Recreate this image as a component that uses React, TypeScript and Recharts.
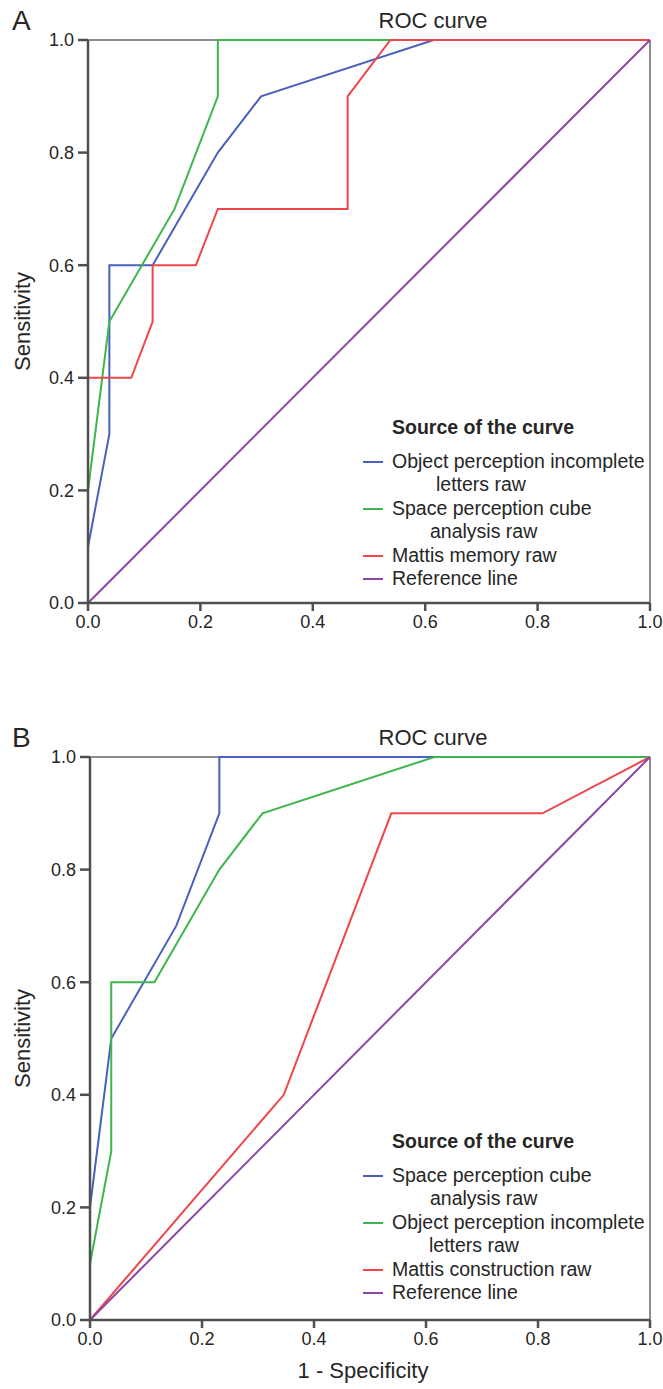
import React from 'react';
import {
  LineChart,
  Line,
  XAxis,
  YAxis,
  CartesianGrid,
  Legend
} from 'recharts';

// 1 - specificity / sensitivity pairs
const OBJ_LETTERS_FPR = [0, 0, 0.038, 0.038, 0.115, 0.231, 0.308, 0.615, 1];
const OBJ_LETTERS_TPR = [0, 0.1, 0.3, 0.6, 0.6, 0.8, 0.9, 1, 1];

const SPACE_CUBE_FPR = [0, 0, 0.038, 0.154, 0.231, 0.231, 1];
const SPACE_CUBE_TPR = [0, 0.2, 0.5, 0.7, 0.9, 1, 1];

const MATTIS_MEMORY_FPR = [0, 0, 0.077, 0.115, 0.115, 0.192, 0.231, 0.462, 0.462, 0.538, 1];
const MATTIS_MEMORY_TPR = [0, 0.4, 0.4, 0.5, 0.6, 0.6, 0.7, 0.7, 0.9, 1, 1];

const MATTIS_CONSTR_FPR = [0, 0.346, 0.538, 0.808, 1];
const MATTIS_CONSTR_TPR = [0, 0.4, 0.9, 0.9, 1];

const REF_FPR = [0, 1];
const REF_TPR = [0, 1];

const TICKS = [0, 0.2, 0.4, 0.6, 0.8, 1];

const zip = (xs: number[], ys: number[]) => xs.map((x, i) => ({ x, y: ys[i] }));

const FONT = '"Liberation Sans", Arial, sans-serif';
const AXIS = '#4f4f4f';
const FRAME = '#8c8c8c';
const TEXT = '#262626';

const COLORS = {
  blue: '#4861bc',
  green: '#3db64c',
  red: '#ef454b',
  purple: '#8c46a6'
};

interface Series {
  name: string[];
  color: string;
  data: { x: number; y: number }[];
  indent?: number;
}

const panelA: Series[] = [
  { name: ['Object perception incomplete', 'letters raw'], color: COLORS.blue, data: zip(OBJ_LETTERS_FPR, OBJ_LETTERS_TPR), indent: 44 },
  { name: ['Space perception cube', 'analysis raw'], color: COLORS.green, data: zip(SPACE_CUBE_FPR, SPACE_CUBE_TPR), indent: 38 },
  { name: ['Mattis memory raw'], color: COLORS.red, data: zip(MATTIS_MEMORY_FPR, MATTIS_MEMORY_TPR) },
  { name: ['Reference line'], color: COLORS.purple, data: zip(REF_FPR, REF_TPR) }
];

const panelB: Series[] = [
  { name: ['Space perception cube', 'analysis raw'], color: COLORS.blue, data: zip(SPACE_CUBE_FPR, SPACE_CUBE_TPR), indent: 38 },
  { name: ['Object perception incomplete', 'letters raw'], color: COLORS.green, data: zip(OBJ_LETTERS_FPR, OBJ_LETTERS_TPR), indent: 37 },
  { name: ['Mattis construction raw'], color: COLORS.red, data: zip(MATTIS_CONSTR_FPR, MATTIS_CONSTR_TPR) },
  { name: ['Reference line'], color: COLORS.purple, data: zip(REF_FPR, REF_TPR) }
];

function CurveLegend({ series }: { series: Series[] }) {
  return (
    <div style={{ fontFamily: FONT, fontSize: 19.5, lineHeight: '23.5px', color: TEXT, whiteSpace: 'nowrap' }}>
      <div style={{ fontWeight: 'bold', paddingLeft: 29, marginBottom: 10 }}>Source of the curve</div>
      {series.map(s => (
        <div key={s.name.join(' ')} style={{ display: 'flex', alignItems: 'flex-start' }}>
          <span style={{ display: 'inline-block', width: 20, height: 2, background: s.color, marginTop: 11, marginRight: 9 }} />
          <div>
            <div>{s.name[0]}</div>
            {s.name[1] && <div style={{ paddingLeft: s.indent }}>{s.name[1]}</div>}
          </div>
        </div>
      ))}
    </div>
  );
}

function RocPanel({ series, letter, top, yAxisWidth, height, xLabel, legendTop }: {
  series: Series[];
  letter: string;
  top: number;
  yAxisWidth: number;
  height: number;
  xLabel?: string;
  legendTop: number;
}) {
  return (
    <div style={{ position: 'absolute', left: 0, top, width: 663, height }}>
      <div style={{ position: 'absolute', left: 12, top: 5, fontFamily: FONT, fontSize: 28, color: TEXT, lineHeight: '32px' }}>{letter}</div>
      <div style={{ position: 'absolute', left: 0, width: 866, top: 8, textAlign: 'center', fontFamily: FONT, fontSize: 22, color: TEXT, lineHeight: '26px' }}>ROC curve</div>
      <LineChart width={663} height={height} margin={{ top: 40, right: 13, left: 0, bottom: xLabel ? 8 : 7 }}>
        <CartesianGrid horizontalValues={[1]} verticalValues={[1]} stroke={FRAME} strokeWidth={2} />
        <XAxis
          type="number"
          dataKey="x"
          domain={[0, 1]}
          ticks={TICKS}
          tickFormatter={(v: number) => v.toFixed(1)}
          height={xLabel ? 60 : 30}
          tickSize={8}
          tickMargin={4}
          axisLine={{ stroke: AXIS, strokeWidth: 2.5 }}
          tickLine={{ stroke: AXIS, strokeWidth: 2.5 }}
          tick={{ fill: TEXT, fontSize: 18, fontFamily: FONT }}
          label={xLabel ? { value: xLabel, position: 'insideBottom', offset: 2, dx: -7, fill: TEXT, fontSize: 22, fontFamily: FONT } : undefined}
        />
        <YAxis
          type="number"
          dataKey="y"
          domain={[0, 1]}
          ticks={TICKS}
          tickFormatter={(v: number) => v.toFixed(1)}
          width={yAxisWidth}
          tickSize={10}
          tickMargin={4}
          axisLine={{ stroke: AXIS, strokeWidth: 2.5 }}
          tickLine={{ stroke: AXIS, strokeWidth: 2.5 }}
          tick={{ fill: TEXT, fontSize: 18, fontFamily: FONT }}
          label={{ value: 'Sensitivity', angle: -90, position: 'insideLeft', offset: 22, fill: TEXT, fontSize: 22, fontFamily: FONT, style: { textAnchor: 'middle' } }}
        />
        <Legend
          layout="vertical"
          align="center"
          verticalAlign="middle"
          wrapperStyle={{ left: 363, top: legendTop, width: 295, height: 'auto' }}
          content={() => <CurveLegend series={series} />}
        />
        {series.map(s => (
          <Line
            key={s.name.join(' ')}
            name={s.name.join(' ')}
            data={s.data}
            dataKey="y"
            type="linear"
            stroke={s.color}
            strokeWidth={2}
            dot={false}
            activeDot={false}
            isAnimationActive={false}
          />
        ))}
      </LineChart>
    </div>
  );
}

export default function App() {
  return (
    <div style={{ position: 'absolute', left: 0, top: 0, width: 663, height: 1389, background: '#fff' }}>
      <RocPanel series={panelA} letter="A" top={0} yAxisWidth={88} height={640} legendTop={416} />
      <RocPanel series={panelB} letter="B" top={717} yAxisWidth={90} height={671} xLabel="1 - Specificity" legendTop={413} />
    </div>
  );
}
